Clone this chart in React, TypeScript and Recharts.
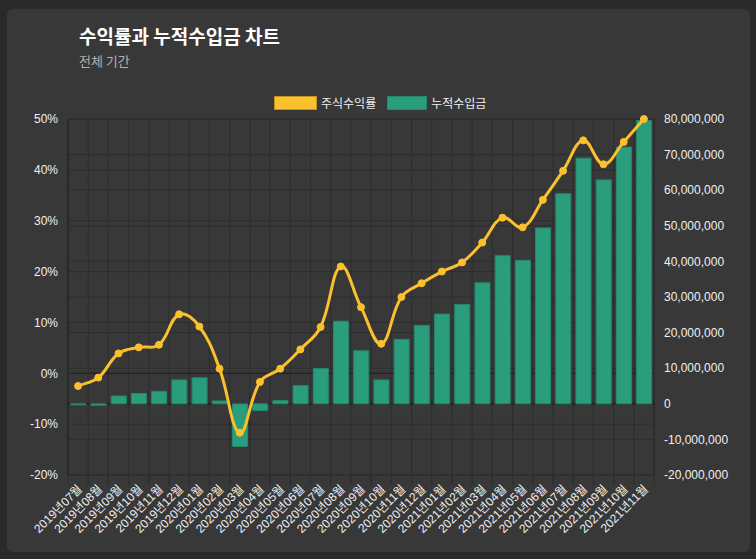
import React from 'react';
import { ComposedChart, Bar, Line, XAxis, YAxis, CartesianGrid } from 'recharts';

const months = [
  '2019년07월', '2019년08월', '2019년09월', '2019년10월', '2019년11월', '2019년12월',
  '2020년01월', '2020년02월', '2020년03월', '2020년04월', '2020년05월', '2020년06월',
  '2020년07월', '2020년08월', '2020년09월', '2020년10월', '2020년11월', '2020년12월',
  '2021년01월', '2021년02월', '2021년03월', '2021년04월', '2021년05월', '2021년06월',
  '2021년07월', '2021년08월', '2021년09월', '2021년10월', '2021년11월',
];

const stockReturn = [
  -2.5, -0.85, 3.9, 5.1, 5.6, 11.6, 9.2, 0.9, -11.7, -1.7, 0.9, 4.7,
  9.1, 21.0, 13.0, 5.8, 15.0, 17.7, 20.0, 21.8, 25.7, 30.6, 28.7, 34.1,
  39.8, 45.8, 41.1, 45.5, 50.0,
];

const cumulativeIncome = [
  -300000, -400000, 2200000, 2900000, 3500000, 6700000, 7300000, 800000,
  -12000000, -1900000, 900000, 5100000, 9900000, 23200000, 14900000, 6700000,
  18100000, 22000000, 25200000, 27900000, 34000000, 41600000, 40300000, 49400000,
  59000000, 69000000, 62900000, 72100000, 79600000,
];

const returnTicks = [-20, -10, 0, 10, 20, 30, 40, 50];
const incomeTicks = [
  -20000000, -10000000, 0, 10000000, 20000000, 30000000, 40000000,
  50000000, 60000000, 70000000, 80000000,
];

const seriesNames = { ret: '주식수익률', income: '누적수입금' };
const titleText = '수익률과 누적수입금 차트';
const subtitleText = '전체 기간';

const data = months.map((m, i) => ({
  month: m,
  ret: stockReturn[i],
  income: cumulativeIncome[i],
}));

const CHART_W = 743;
const CHART_H = 543;
const LEFT_W = 61;
const RIGHT_W = 96;
const TOP = 110;
const XAXIS_H = 77;
const PLOT_W = CHART_W - LEFT_W - RIGHT_W;

const GRID = '#2d2d2d';
const ZERO = '#222222';
const YELLOW = '#fbc02d';
const TEAL = '#2a9d7d';
const TEXT = '#efefef';
const FONT = '"Liberation Sans", "Noto Sans CJK KR", Arial, sans-serif';
const KFONT = '"Noto Sans CJK KR", "Liberation Sans", sans-serif';

// Chart.js-like spline (tension 0.4)
function chartJsCurve(context: any) {
  let pts: [number, number][] = [];
  return {
    areaStart() {},
    areaEnd() {},
    lineStart() {
      pts = [];
    },
    lineEnd() {
      const n = pts.length;
      if (!n) return;
      const t = 0.4;
      const cps = pts.map((p, i) => {
        const prev = pts[i - 1] || p;
        const next = pts[i + 1] || p;
        const d01 = Math.hypot(p[0] - prev[0], p[1] - prev[1]);
        const d12 = Math.hypot(next[0] - p[0], next[1] - p[1]);
        let s01 = d01 / (d01 + d12);
        let s12 = d12 / (d01 + d12);
        if (!isFinite(s01)) s01 = 0;
        if (!isFinite(s12)) s12 = 0;
        const fa = t * s01;
        const fb = t * s12;
        return {
          px: p[0] - fa * (next[0] - prev[0]),
          py: p[1] - fa * (next[1] - prev[1]),
          nx: p[0] + fb * (next[0] - prev[0]),
          ny: p[1] + fb * (next[1] - prev[1]),
        };
      });
      context.moveTo(pts[0][0], pts[0][1]);
      for (let i = 1; i < n; i++) {
        context.bezierCurveTo(cps[i - 1].nx, cps[i - 1].ny, cps[i].px, cps[i].py, pts[i][0], pts[i][1]);
      }
    },
    point(x: number, y: number) {
      pts.push([+x, +y]);
    },
  };
}

const MonthTick = (props: any) => {
  const { x, y, payload } = props;
  const half = PLOT_W / months.length / 2;
  const ax = x + 2;
  const ay = y + 12;
  return (
    <g>
      <line x1={x - half} x2={x - half} y1={y} y2={y + 10} stroke={GRID} />
      <line x1={x + half} x2={x + half} y1={y} y2={y + 10} stroke={GRID} />
      <text
        x={ax}
        y={ay}
        textAnchor="end"
        dominantBaseline="central"
        transform={`rotate(-45, ${ax}, ${ay})`}
        fill={TEXT}
        fontSize={12}
        fontFamily={FONT}
      >
        {payload.value}
      </text>
    </g>
  );
};

const LegendItem = ({ color, border, label, w }: { color: string; border: string; label: string; w: number }) => (
  <div style={{ display: 'flex', alignItems: 'center' }}>
    <div style={{ width: w, height: 14, background: color, border: `1px solid ${border}`, boxSizing: 'border-box' }} />
    <span style={{ marginLeft: 4, fontSize: 12, color: TEXT, fontFamily: KFONT, lineHeight: '14px' }}>{label}</span>
  </div>
);

export default function App() {
  return (
    <div style={{ position: 'absolute', left: 0, top: 0, width: 756, height: 559, background: '#2a2a2a', overflow: 'hidden' }}>
      <div
        style={{
          position: 'absolute',
          left: 7,
          top: 9,
          width: CHART_W,
          height: CHART_H,
          background: '#383838',
          borderRadius: 6,
        }}
      >
        <ComposedChart
          width={CHART_W}
          height={CHART_H}
          data={data}
          margin={{ top: TOP, right: 0, bottom: 0, left: 0 }}
          barCategoryGap="14%"
        >
          <CartesianGrid
            yAxisId="left"
            stroke={GRID}
            verticalCoordinatesGenerator={({ offset }: any) =>
              months.map((_, i) => offset.left + (i * offset.width) / months.length).concat([offset.left + offset.width])
            }
          />
          <CartesianGrid yAxisId="right" stroke={GRID} vertical={false} />
          <CartesianGrid yAxisId="left" stroke={ZERO} vertical={false} horizontalValues={[0]} />
          <CartesianGrid yAxisId="right" stroke={ZERO} vertical={false} horizontalValues={[0]} />
          <XAxis
            dataKey="month"
            interval={0}
            height={XAXIS_H}
            tickLine={false}
            axisLine={false}
            tickSize={0}
            tickMargin={0}
            tick={<MonthTick />}
          />
          <YAxis
            yAxisId="left"
            orientation="left"
            width={LEFT_W}
            domain={[-20, 50]}
            ticks={returnTicks}
            tickFormatter={(v: number) => `${v}%`}
            tickLine={false}
            tickSize={0}
            tickMargin={10}
            axisLine={{ stroke: ZERO }}
            tick={{ fill: TEXT, fontSize: 12, fontFamily: FONT }}
          />
          <YAxis
            yAxisId="right"
            orientation="right"
            width={RIGHT_W}
            domain={[-20000000, 80000000]}
            ticks={incomeTicks}
            tickFormatter={(v: number) => v.toLocaleString('en-US')}
            tickLine={false}
            tickSize={0}
            tickMargin={10}
            axisLine={{ stroke: '#282828' }}
            tick={{ fill: TEXT, fontSize: 12, fontFamily: FONT, textAnchor: 'start' }}
          />
          <Bar
            yAxisId="right"
            dataKey="income"
            name={seriesNames.income}
            fill={TEAL}
            stroke="#25876c"
            strokeWidth={1}
            isAnimationActive={false}
          />
          <Line
            yAxisId="left"
            dataKey="ret"
            name={seriesNames.ret}
            type={chartJsCurve as any}
            stroke={YELLOW}
            strokeWidth={3}
            dot={{ r: 3.5, fill: YELLOW, stroke: YELLOW, strokeWidth: 1 }}
            activeDot={false}
            isAnimationActive={false}
          />
        </ComposedChart>
      </div>
      <div
        style={{
          position: 'absolute',
          left: 79,
          top: 25,
          fontFamily: KFONT,
          fontWeight: 700,
          fontSize: 19,
          lineHeight: '22px',
          color: '#ffffff',
          whiteSpace: 'nowrap',
        }}
      >
        {titleText}
      </div>
      <div
        style={{
          position: 'absolute',
          left: 79,
          top: 53,
          fontFamily: KFONT,
          fontSize: 13,
          lineHeight: '16px',
          color: '#b0b0b0',
          whiteSpace: 'nowrap',
        }}
      >
        {subtitleText}
      </div>
      <div style={{ position: 'absolute', left: 274, top: 96, display: 'flex', alignItems: 'center', gap: 11 }}>
        <LegendItem color={YELLOW} border="#c0921f" label={seriesNames.ret} w={43} />
        <LegendItem color={TEAL} border="#25876c" label={seriesNames.income} w={40} />
      </div>
    </div>
  );
}
